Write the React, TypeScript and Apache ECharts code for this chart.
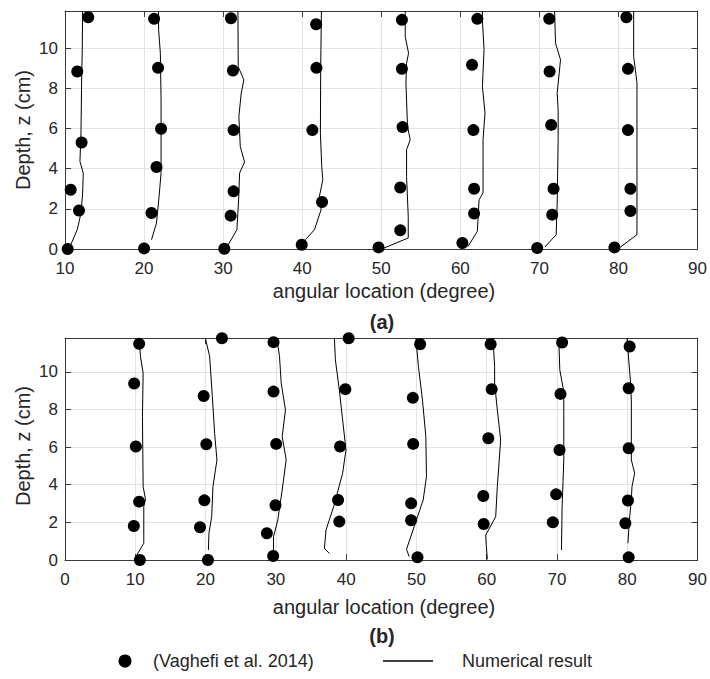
import React, { useEffect, useRef } from "react";
import * as echarts from "echarts";

// ---------- Data ----------
const X_TICKS_A = [10, 20, 30, 40, 50, 60, 70, 80, 90];
const X_TICKS_B = [0, 10, 20, 30, 40, 50, 60, 70, 80, 90];
const Y_TICKS = [0, 2, 4, 6, 8, 10];
const Y_MAX_A = 11.85;
const Y_MAX_B = 11.8;

// Panel (a): experimental points [angle, depth]
const A_DOTS: number[][] = [
  [12.94, 11.54], [11.55, 8.84], [12.1, 5.3], [10.72, 2.95], [11.77, 1.92], [10.34, 0],
  [21.27, 11.46], [21.77, 9.02], [22.15, 5.99], [21.57, 4.08], [20.94, 1.79], [20.0, 0.03],
  [30.99, 11.49], [31.24, 8.89], [31.32, 5.92], [31.32, 2.87], [30.95, 1.66], [30.15, 0.01],
  [41.76, 11.19], [41.8, 9.02], [41.29, 5.92], [42.51, 2.34], [39.94, 0.21],
  [52.61, 11.41], [52.61, 8.97], [52.69, 6.07], [52.4, 3.06], [52.4, 0.93], [49.66, 0.08],
  [62.15, 11.46], [61.48, 9.17], [61.65, 5.92], [61.74, 3.0], [61.74, 1.77], [60.26, 0.3],
  [71.24, 11.46], [71.29, 8.84], [71.49, 6.18], [71.79, 3.0], [71.62, 1.71], [69.72, 0.05],
  [81.0, 11.54], [81.2, 8.97], [81.2, 5.92], [81.51, 3.0], [81.51, 1.89], [79.49, 0.08],
];

// Panel (a): numerical curves
const A_LINE_10 = [[10.72, 0.21], [11.55, 0.96], [12.02, 1.79], [12.23, 2.79], [12.31, 3.78], [11.89, 4.36], [12.02, 5.77], [12.1, 8.26], [12.18, 9.92], [12.23, 11.85]];
const A_LINE_20 = [[20.94, 0.46], [21.57, 1.29], [21.9, 2.62], [22.15, 3.78], [22.15, 7.43], [22.06, 9.75], [21.84, 10.91], [21.81, 11.85]];
const A_LINE_30 = [[30.53, 0.13], [31.74, 0.96], [31.96, 2.45], [32.08, 3.78], [32.71, 4.33], [32.17, 5.1], [31.99, 6.6], [32.29, 7.76], [32.62, 8.42], [31.91, 9.08], [31.87, 11.85]];
const A_LINE_40 = [[40.41, 0.46], [41.55, 0.96], [42.39, 1.96], [42.18, 2.62], [42.6, 3.45], [42.47, 4.11], [42.3, 5.77], [42.34, 9.08], [42.43, 11.85]];
const A_LINE_50 = [[50.38, 0.05], [53.41, 0.55], [53.41, 1.62], [53.2, 3.61], [53.2, 4.94], [53.66, 5.44], [53.32, 6.1], [53.12, 8.26], [53.2, 9.25], [53.45, 9.75], [53.03, 10.58], [53.03, 11.85]];
const A_LINE_60 = [[60.98, 0.13], [62.15, 0.88], [62.37, 2.45], [62.87, 2.79], [62.87, 5.44], [63.12, 6.77], [62.79, 8.09], [63.0, 9.92], [62.79, 11.41], [62.79, 11.85]];
const A_LINE_70 = [[70.69, 0.1], [72.12, 0.71], [72.25, 2.29], [72.37, 5.44], [72.37, 6.93], [72.25, 7.76], [72.67, 9.42], [72.04, 10.25], [71.92, 11.85]];
const A_LINE_80 = [[80.25, 0.1], [82.34, 0.71], [82.34, 5.77], [82.34, 8.26], [82.14, 8.92], [81.92, 9.58], [81.92, 11.85]];

// Panel (b): experimental points
const B_DOTS: number[][] = [
  [10.55, 11.49], [9.84, 9.38], [10.08, 6.03], [10.55, 3.1], [9.79, 1.81], [10.65, 0],
  [22.33, 11.79], [19.73, 8.72], [20.11, 6.15], [19.83, 3.17], [19.21, 1.74], [20.34, 0],
  [29.67, 11.58], [29.67, 8.95], [30.05, 6.17], [29.95, 2.91], [28.72, 1.42], [29.62, 0.21],
  [40.36, 11.79], [39.89, 9.08], [39.13, 6.03], [38.85, 3.19], [39.03, 2.04],
  [50.53, 11.47], [49.49, 8.62], [49.54, 6.17], [49.25, 3.01], [49.25, 2.11], [50.15, 0.14],
  [60.56, 11.47], [60.71, 9.08], [60.23, 6.47], [59.52, 3.4], [59.57, 1.91],
  [70.73, 11.56], [70.5, 8.83], [70.36, 5.85], [69.88, 3.49], [69.41, 2.0],
  [80.34, 11.35], [80.2, 9.13], [80.2, 5.94], [80.1, 3.16], [79.73, 1.95], [80.2, 0.14],
];

// Panel (b): numerical curves
const B_LINE_10 = [[10.08, 0.18], [11.21, 0.89], [11.21, 2.84], [11.45, 3.24], [11.12, 3.9], [11.02, 7.62], [11.12, 9.93], [10.74, 10.82], [10.55, 11.8]];
const B_LINE_20 = [[20.4, 0.53], [20.48, 1.42], [20.87, 2.3], [21.05, 3.9], [21.62, 5.32], [21.29, 6.74], [20.96, 8.69], [20.58, 10.82], [19.97, 11.8]];
const B_LINE_30 = [[29.67, 0.35], [29.67, 1.24], [30.28, 2.13], [30.9, 3.72], [31.47, 5.32], [30.9, 6.56], [31.37, 7.98], [30.76, 9.4], [30.52, 10.82], [30.14, 11.8]];
const B_LINE_40 = [[37.62, 0.35], [36.91, 0.62], [37.14, 1.6], [38.23, 2.84], [39.5, 4.61], [39.98, 5.85], [39.5, 7.45], [39.03, 9.04], [38.47, 10.64], [38.33, 11.8]];
const B_LINE_50 = [[48.97, 0.18], [48.59, 0.57], [49.68, 1.77], [50.96, 3.19], [51.43, 4.43], [51.34, 6.56], [50.86, 8.51], [50.29, 10.28], [49.92, 11.8]];
const B_LINE_60 = [[60.09, 0.04], [59.95, 0.71], [59.86, 1.33], [61.28, 2.3], [61.51, 3.9], [61.99, 6.38], [61.51, 7.98], [61.13, 9.4], [61.13, 10.28], [60.89, 11.8]];
const B_LINE_70 = [[70.64, 0.53], [70.73, 2.84], [70.97, 5.32], [70.97, 8.51], [70.88, 9.13], [70.4, 10.11], [70.26, 11.8]];
const B_LINE_80 = [[80.1, 0.89], [80.3, 2.13], [80.58, 3.19], [80.67, 3.9], [81.05, 4.61], [80.58, 5.32], [80.58, 8.51], [80.44, 9.57], [79.96, 11.8]];

const A_LINES = [A_LINE_10, A_LINE_20, A_LINE_30, A_LINE_40, A_LINE_50, A_LINE_60, A_LINE_70, A_LINE_80];
const B_LINES = [B_LINE_10, B_LINE_20, B_LINE_30, B_LINE_40, B_LINE_50, B_LINE_60, B_LINE_70, B_LINE_80];

const X_TITLE = "angular location (degree)";
const Y_TITLE = "Depth, z (cm)";
const LEGEND_DOTS = "(Vaghefi et al. 2014)";
const LEGEND_LINE = "Numerical result";

// ---------- Styling ----------
const FONT = "'Liberation Sans', Arial, Helvetica, sans-serif";
const AXIS_COLOR = "#3a3a3a";
const TEXT_COLOR = "#262626";
const GRID_COLOR = "#e3e3e3";

function xAxes(gridIndex: number, ticks: number[]) {
  const min = ticks[0];
  const max = ticks[ticks.length - 1];
  const base = {
    type: "value",
    gridIndex,
    min,
    max,
    interval: 10,
    axisLine: { show: true, onZero: false, lineStyle: { color: AXIS_COLOR, width: 1 } },
    axisTick: { show: true, inside: true, length: 6, lineStyle: { color: AXIS_COLOR } },
  };
  return [
    {
      ...base,
      position: "bottom",
      axisLabel: {
        show: true,
        margin: 11,
        fontSize: 17,
        fontFamily: FONT,
        color: TEXT_COLOR,
        formatter: (v: number) => (ticks.includes(v) ? String(v) : ""),
      },
      splitLine: { show: true, lineStyle: { color: GRID_COLOR, width: 1 } },
    },
    {
      ...base,
      position: "top",
      axisLabel: { show: false },
      splitLine: { show: false },
    },
  ];
}

function yAxes(gridIndex: number, max: number) {
  const base = {
    type: "value",
    gridIndex,
    min: 0,
    max,
    interval: 2,
    axisLine: { show: true, onZero: false, lineStyle: { color: AXIS_COLOR, width: 1 } },
    axisTick: { show: true, inside: true, length: 6, lineStyle: { color: AXIS_COLOR } },
  };
  return [
    {
      ...base,
      position: "left",
      axisLabel: {
        show: true,
        margin: 7,
        fontSize: 17,
        fontFamily: FONT,
        color: TEXT_COLOR,
        formatter: (v: number) => (Y_TICKS.includes(v) ? String(v) : ""),
      },
      splitLine: { show: true, lineStyle: { color: GRID_COLOR, width: 1 } },
    },
    {
      ...base,
      position: "right",
      axisLabel: { show: false },
      splitLine: { show: false },
    },
  ];
}

export default function App() {
  const ref = useRef<HTMLDivElement>(null);

  useEffect(() => {
    document.body.style.margin = "0";
    if (!ref.current) return;
    const chart = echarts.init(ref.current, undefined, { renderer: "svg" });

    const lineSeries = (data: number[][], axisIdx: number) => ({
      type: "line",
      xAxisIndex: axisIdx,
      yAxisIndex: axisIdx,
      data,
      showSymbol: false,
      symbol: "none",
      smooth: false,
      clip: false,
      lineStyle: { color: "#000", width: 1 },
      z: 2,
    });

    const dotSeries = (data: number[][], axisIdx: number) => ({
      type: "scatter",
      xAxisIndex: axisIdx,
      yAxisIndex: axisIdx,
      data,
      symbol: "circle",
      symbolSize: 12,
      clip: false,
      itemStyle: { color: "#000", opacity: 1 },
      z: 3,
    });

    const series: any[] = [
      ...A_LINES.map((d) => lineSeries(d, 0)),
      ...B_LINES.map((d) => lineSeries(d, 2)),
      dotSeries(A_DOTS, 0),
      dotSeries(B_DOTS, 2),
    ];

    const textStyle = (size: number, bold = false) => ({
      fontSize: size,
      fontFamily: FONT,
      fontWeight: bold ? "bold" : "normal",
      fill: TEXT_COLOR,
    });

    chart.setOption({
      animation: false,
      backgroundColor: "#fff",
      grid: [
        { left: 65, top: 11, width: 634, height: 238, containLabel: false },
        { left: 65, top: 338, width: 634, height: 222, containLabel: false },
      ],
      xAxis: [...xAxes(0, X_TICKS_A), ...xAxes(1, X_TICKS_B)],
      yAxis: [...yAxes(0, Y_MAX_A), ...yAxes(1, Y_MAX_B)],
      series,
      graphic: [
        {
          type: "text",
          x: 23,
          y: 130,
          rotation: Math.PI / 2,
          style: { text: Y_TITLE, ...textStyle(20), textAlign: "center", textVerticalAlign: "middle" },
        },
        {
          type: "text",
          x: 23,
          y: 446,
          rotation: Math.PI / 2,
          style: { text: Y_TITLE, ...textStyle(20), textAlign: "center", textVerticalAlign: "middle" },
        },
        {
          type: "text",
          x: 384,
          y: 291,
          style: { text: X_TITLE, ...textStyle(20), textAlign: "center", textVerticalAlign: "middle" },
        },
        {
          type: "text",
          x: 382,
          y: 322,
          style: { text: "(a)", ...textStyle(20, true), textAlign: "center", textVerticalAlign: "middle" },
        },
        {
          type: "text",
          x: 384,
          y: 607,
          style: { text: X_TITLE, ...textStyle(20), textAlign: "center", textVerticalAlign: "middle" },
        },
        {
          type: "text",
          x: 382,
          y: 636,
          style: { text: "(b)", ...textStyle(20, true), textAlign: "center", textVerticalAlign: "middle" },
        },
        {
          type: "circle",
          shape: { cx: 125, cy: 661, r: 6.5 },
          style: { fill: "#000" },
        },
        {
          type: "text",
          x: 153,
          y: 661,
          style: { text: LEGEND_DOTS, ...textStyle(18), textAlign: "left", textVerticalAlign: "middle" },
        },
        {
          type: "line",
          shape: { x1: 383, y1: 661, x2: 433, y2: 661 },
          style: { stroke: "#000", lineWidth: 1.5 },
        },
        {
          type: "text",
          x: 462,
          y: 661,
          style: { text: LEGEND_LINE, ...textStyle(18), textAlign: "left", textVerticalAlign: "middle" },
        },
      ],
    });

    return () => chart.dispose();
  }, []);

  return <div ref={ref} style={{ width: 710, height: 679 }} />;
}
